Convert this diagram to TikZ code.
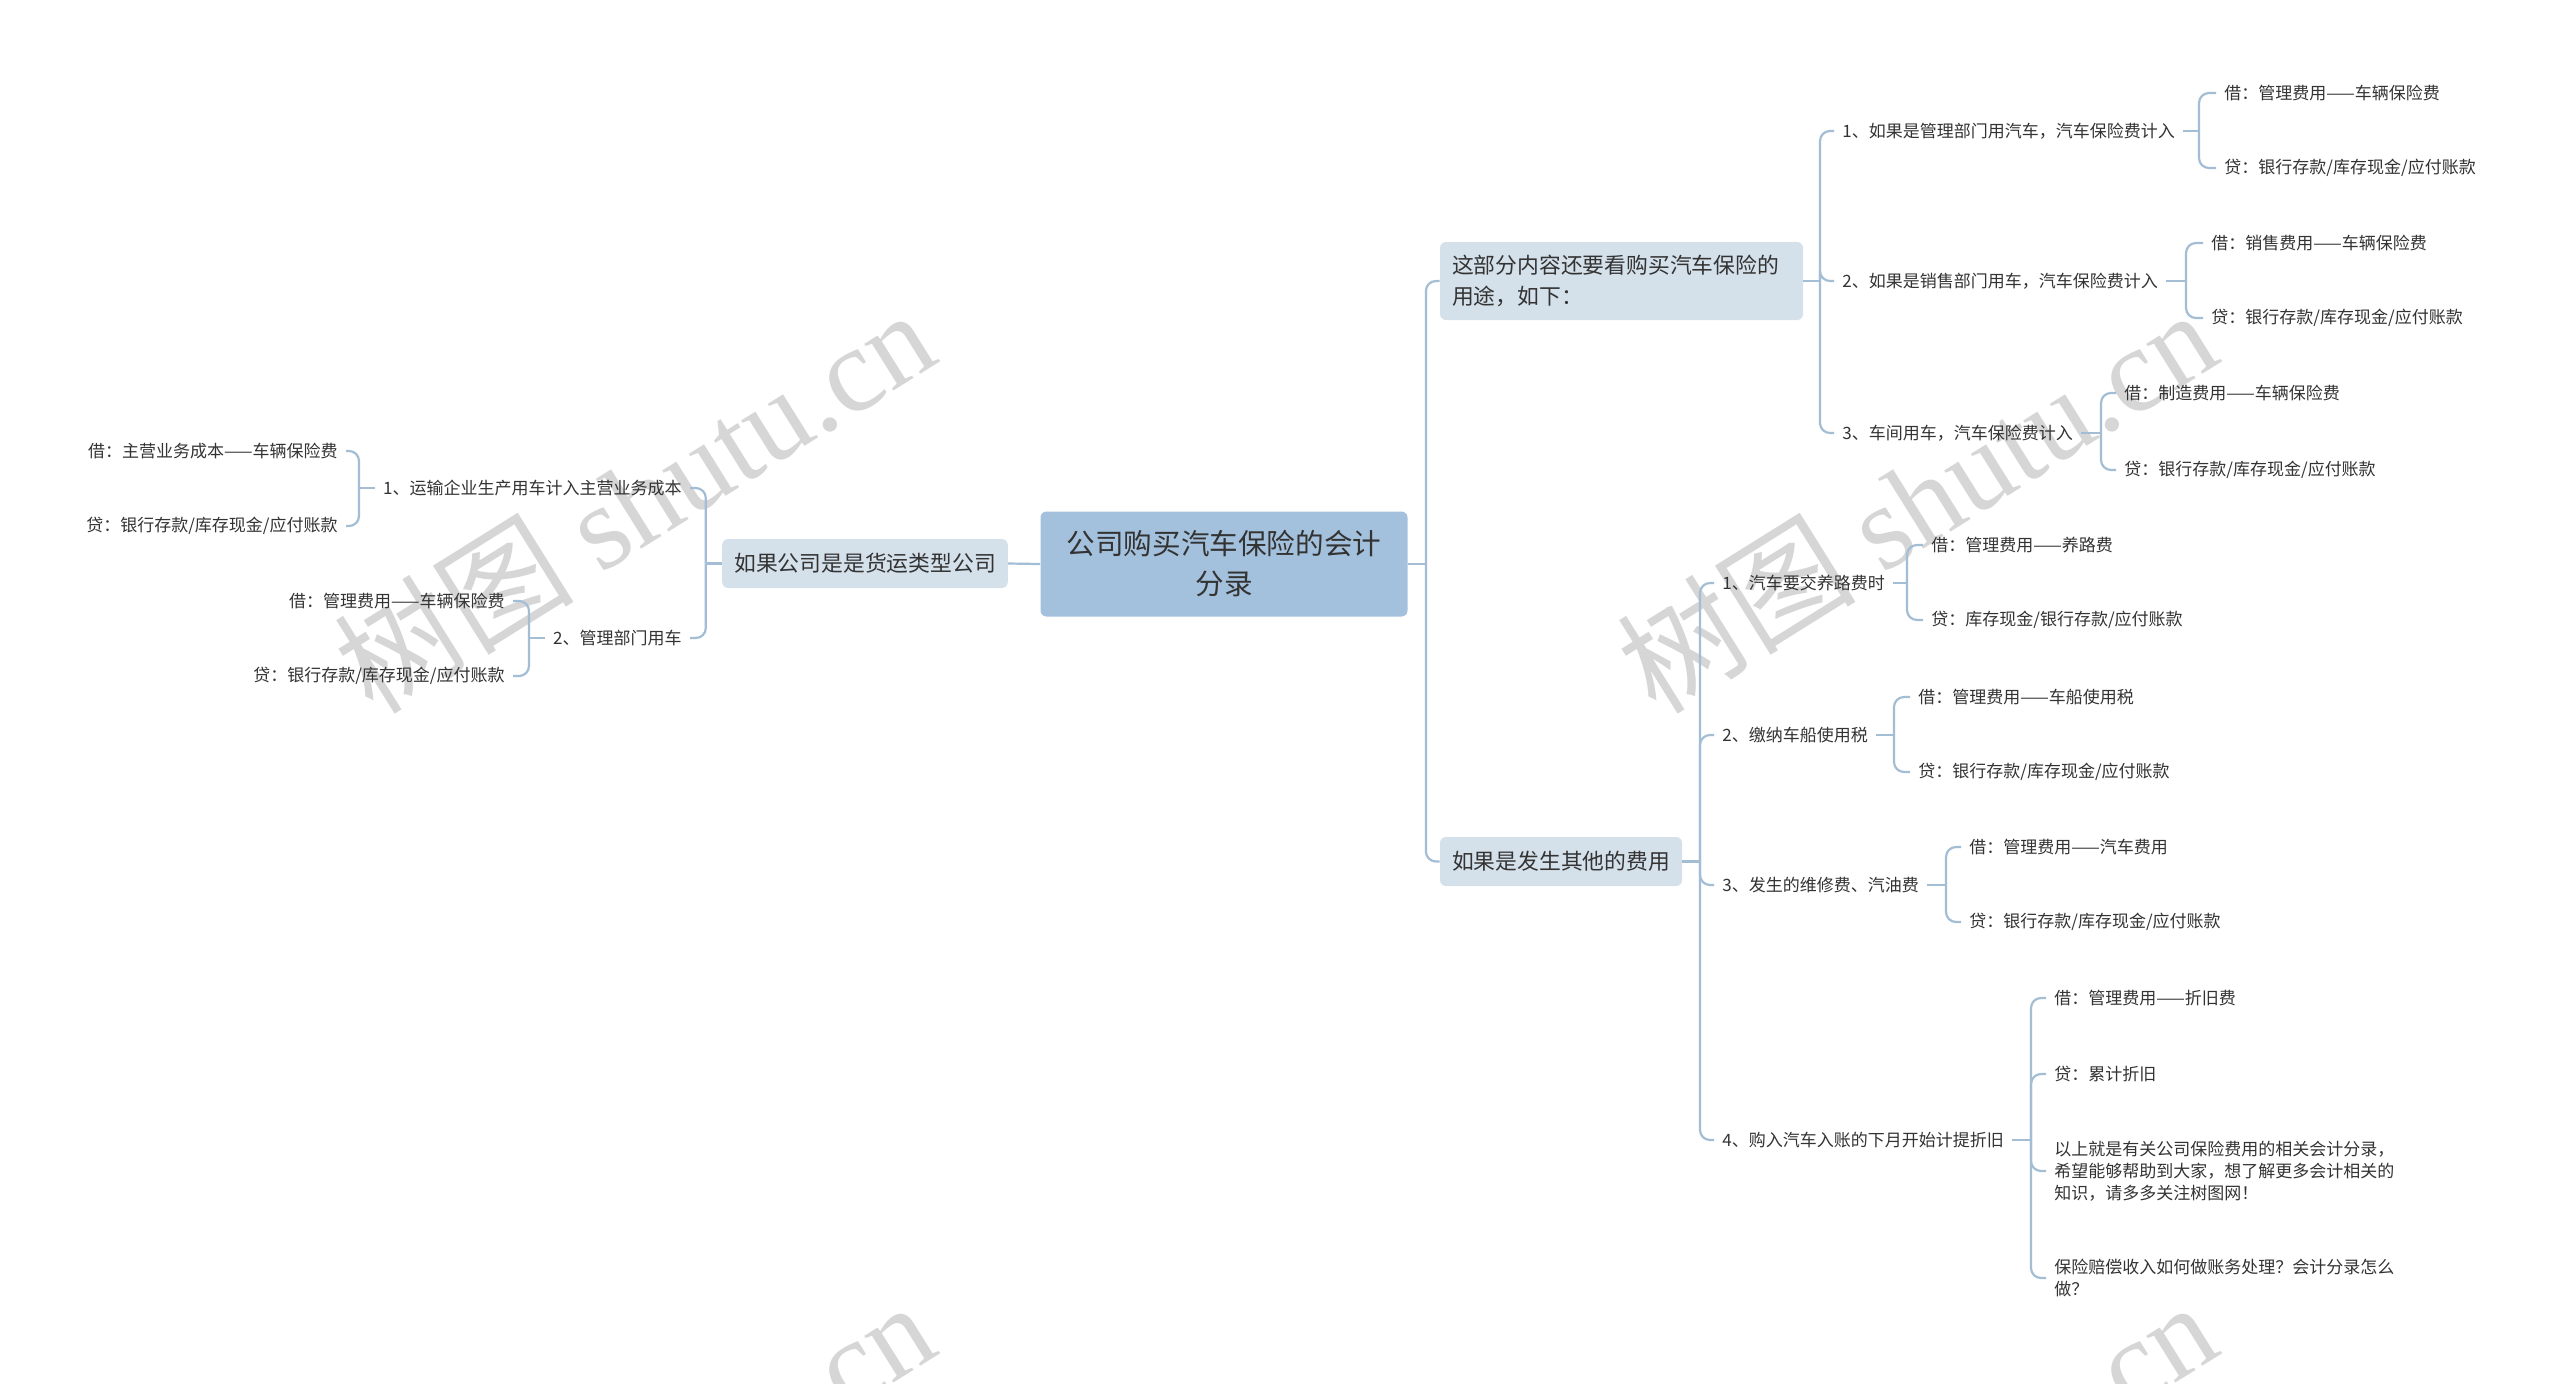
\documentclass[tikz,border=0pt]{standalone}
\usepackage{fontspec}
\setmainfont{Noto Sans CJK SC}
\newfontfamily\wmlatin{Liberation Serif}
\newfontfamily\wmcjk{Noto Sans CJK SC}
\usetikzlibrary{calc}
\definecolor{conn}{HTML}{A3BDD4}
\definecolor{rootfill}{HTML}{A3C1DC}
\definecolor{mainfill}{HTML}{D4E0EA}
\definecolor{txt}{HTML}{333333}
\definecolor{wm}{HTML}{D6D6D6}
\begin{document}
\begin{tikzpicture}[x=0.5pt,y=-0.5pt,
  link/.style={draw=conn,line width=1.1pt,rounded corners=5pt},
  rootbox/.style={fill=rootfill,rounded corners=3pt,text=txt,align=center,
    font=\fontsize{14.3pt}{20pt}\selectfont,minimum width=183.5pt,minimum height=52.5pt,inner sep=0pt},
  mainbox/.style={fill=mainfill,rounded corners=3pt,text=txt,
    font=\fontsize{10.9pt}{15.5pt}\selectfont,inner xsep=6pt,inner ysep=0pt,minimum height=24.5pt},
  leaf/.style={text=txt,font=\fontsize{8.5pt}{11pt}\selectfont,inner xsep=4pt,inner ysep=2pt,align=left},
  wmark/.style={text=wm,inner sep=0pt,rotate=32,font=\fontsize{60pt}{60pt}\selectfont},
]
\fill[white] (0,0) rectangle (2560,1383);
\useasboundingbox (0,0) rectangle (2560,1383);
\clip (0,0) rectangle (2560,1383);

% watermarks
\node[wmark] (wm1) at (634,500) {\wmcjk 树图 \wmlatin shutu.cn};
\node[wmark] (wm2) at (1916,500) {\wmcjk 树图 \wmlatin shutu.cn};
\node[wmark] (wm3) at (634,1492) {\wmcjk 树图 \wmlatin shutu.cn};
\node[wmark] (wm4) at (1916,1492) {\wmcjk 树图 \wmlatin shutu.cn};

% main nodes
\node[rootbox] (root) at (1224,564) {公司购买汽车保险的会计\\分录};
\node[mainbox] (L) at (865,563.5) {如果公司是是货运类型公司};
\node[mainbox,align=left,text width=169.5pt,minimum height=39pt] (R1) at (1621.5,281) {这部分内容还要看购买汽车保险的\\用途，如下：};
\node[mainbox] (R2) at (1561,861.5) {如果是发生其他的费用};

\coordinate (tR) at ($(root.east)+(18,0)$);
\draw[link] (root.east) -- (tR);
\draw[link] (tR) |- (R1.west);
\draw[link] (tR) |- (R2.west);
\draw[link] (root.west) -- (L.east);

% left branch
\node[leaf,anchor=east] (L1) at (690,488) {1、运输企业生产用车计入主营业务成本};
\node[leaf,anchor=east] (L2) at (690,638) {2、管理部门用车};
\coordinate (tL) at ($(L.west)+(-16,0)$);
\draw[link] (L.west) -- (tL);
\draw[link] (tL) |- (L1.east);
\draw[link] (tL) |- (L2.east);

\node[leaf,anchor=east] (L1a) at (346,451) {借：主营业务成本——车辆保险费};
\node[leaf,anchor=east] (L1b) at (346,526) {贷：银行存款/库存现金/应付账款};
\coordinate (bL1) at (359,488);
\draw[link] (L1.west) -- (bL1);
\draw[link] (bL1) |- (L1a.east);
\draw[link] (bL1) |- (L1b.east);

\node[leaf,anchor=east] (L2a) at (513,601) {借：管理费用——车辆保险费};
\node[leaf,anchor=east] (L2b) at (513,676) {贷：银行存款/库存现金/应付账款};
\coordinate (bL2) at (529,638);
\draw[link] (L2.west) -- (bL2);
\draw[link] (bL2) |- (L2a.east);
\draw[link] (bL2) |- (L2b.east);

% right upper branch
\node[leaf,anchor=west] (R1a) at (1834,131) {1、如果是管理部门用汽车，汽车保险费计入};
\node[leaf,anchor=west] (R1b) at (1834,281) {2、如果是销售部门用车，汽车保险费计入};
\node[leaf,anchor=west] (R1c) at (1834,433) {3、车间用车，汽车保险费计入};
\coordinate (tR1) at (1820,281);
\draw[link] (R1.east) -- (tR1);
\draw[link] (tR1) |- (R1a.west);
\draw[link] (tR1) |- (R1b.west);
\draw[link] (tR1) |- (R1c.west);

\node[leaf,anchor=west] (R1a1) at (2216,93) {借：管理费用——车辆保险费};
\node[leaf,anchor=west] (R1a2) at (2216,168) {贷：银行存款/库存现金/应付账款};
\coordinate (bR1a) at (2199,131);
\draw[link] (R1a.east) -- (bR1a);
\draw[link] (bR1a) |- (R1a1.west);
\draw[link] (bR1a) |- (R1a2.west);

\node[leaf,anchor=west] (R1b1) at (2203,243) {借：销售费用——车辆保险费};
\node[leaf,anchor=west] (R1b2) at (2203,318) {贷：银行存款/库存现金/应付账款};
\coordinate (bR1b) at (2186,281);
\draw[link] (R1b.east) -- (bR1b);
\draw[link] (bR1b) |- (R1b1.west);
\draw[link] (bR1b) |- (R1b2.west);

\node[leaf,anchor=west] (R1c1) at (2116,393) {借：制造费用——车辆保险费};
\node[leaf,anchor=west] (R1c2) at (2116,470) {贷：银行存款/库存现金/应付账款};
\coordinate (bR1c) at (2101,433);
\draw[link] (R1c.east) -- (bR1c);
\draw[link] (bR1c) |- (R1c1.west);
\draw[link] (bR1c) |- (R1c2.west);

% right lower branch
\node[leaf,anchor=west] (R2a) at (1714,583) {1、汽车要交养路费时};
\node[leaf,anchor=west] (R2b) at (1714,735) {2、缴纳车船使用税};
\node[leaf,anchor=west] (R2c) at (1714,885) {3、发生的维修费、汽油费};
\node[leaf,anchor=west] (R2d) at (1714,1140) {4、购入汽车入账的下月开始计提折旧};
\coordinate (tR2) at (1700,861.5);
\draw[link] (R2.east) -- (tR2);
\draw[link] (tR2) |- (R2a.west);
\draw[link] (tR2) |- (R2b.west);
\draw[link] (tR2) |- (R2c.west);
\draw[link] (tR2) |- (R2d.west);

\node[leaf,anchor=west] (R2a1) at (1923,545) {借：管理费用——养路费};
\node[leaf,anchor=west] (R2a2) at (1923,620) {贷：库存现金/银行存款/应付账款};
\coordinate (bR2a) at (1907,583);
\draw[link] (R2a.east) -- (bR2a);
\draw[link] (bR2a) |- (R2a1.west);
\draw[link] (bR2a) |- (R2a2.west);

\node[leaf,anchor=west] (R2b1) at (1910,697) {借：管理费用——车船使用税};
\node[leaf,anchor=west] (R2b2) at (1910,772) {贷：银行存款/库存现金/应付账款};
\coordinate (bR2b) at (1894,735);
\draw[link] (R2b.east) -- (bR2b);
\draw[link] (bR2b) |- (R2b1.west);
\draw[link] (bR2b) |- (R2b2.west);

\node[leaf,anchor=west] (R2c1) at (1961,847) {借：管理费用——汽车费用};
\node[leaf,anchor=west] (R2c2) at (1961,922) {贷：银行存款/库存现金/应付账款};
\coordinate (bR2c) at (1946,885);
\draw[link] (R2c.east) -- (bR2c);
\draw[link] (bR2c) |- (R2c1.west);
\draw[link] (bR2c) |- (R2c2.west);

\node[leaf,anchor=west] (R2d1) at (2046,998) {借：管理费用——折旧费};
\node[leaf,anchor=west] (R2d2) at (2046,1074) {贷：累计折旧};
\node[leaf,anchor=west] (R2d3) at (2046,1171) {以上就是有关公司保险费用的相关会计分录，\\希望能够帮助到大家，想了解更多会计相关的\\知识，请多多关注树图网！};
\node[leaf,anchor=west] (R2d4) at (2046,1278) {保险赔偿收入如何做账务处理？会计分录怎么\\做？};
\coordinate (bR2d) at (2031,1140);
\draw[link] (R2d.east) -- (bR2d);
\draw[link] (bR2d) |- (R2d1.west);
\draw[link] (bR2d) |- (R2d2.west);
\draw[link] (bR2d) |- (R2d3.west);
\draw[link] (bR2d) |- (R2d4.west);
\end{tikzpicture}
\end{document}
